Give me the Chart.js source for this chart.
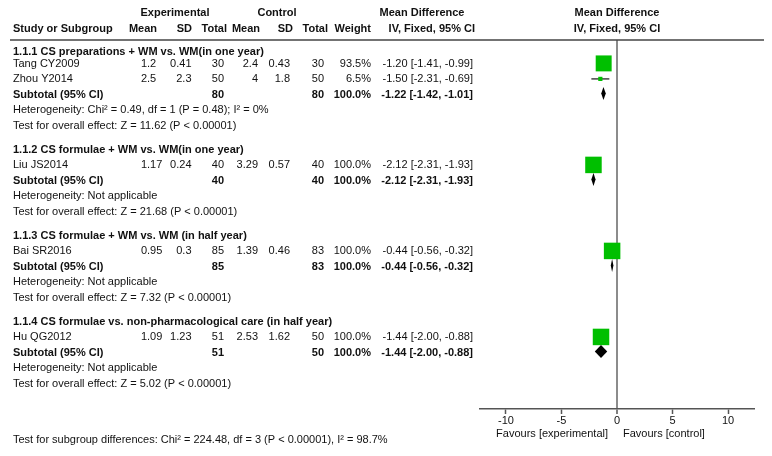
<!DOCTYPE html>
<html>
<head>
<meta charset="utf-8">
<script src="https://cdn.jsdelivr.net/npm/chart.js@4.4.1/dist/chart.umd.min.js"></script>
<style>
  html, body { margin: 0; padding: 0; background: #fff; }
  #wrap { width: 772px; height: 456px; position: relative; }
</style>
</head>
<body>
<div id="wrap"><canvas id="forest"></canvas></div>
<script>
// ---- data ----
var groupTitles = [
  '1.1.1 CS preparations + WM vs. WM(in one year)',
  '1.1.2 CS formulae + WM vs. WM(in one year)',
  '1.1.3 CS formulae + WM vs. WM (in half year)',
  '1.1.4 CS formulae vs. non-pharmacological care (in half year)'
];
var studies    = ['Tang CY2009', 'Zhou Y2014', 'Liu JS2014', 'Bai SR2016', 'Hu QG2012'];
var studyGroup = [0, 0, 1, 2, 3];
var expMean = [1.2, 2.5, 1.17, 0.95, 1.09];
var expSD   = [0.41, 2.3, 0.24, 0.3, 1.23];
var expN    = [30, 50, 40, 85, 51];
var ctlMean = [2.4, 4, 3.29, 1.39, 2.53];
var ctlSD   = [0.43, 1.8, 0.57, 0.46, 1.62];
var ctlN    = [30, 50, 40, 83, 50];
var weight  = [93.5, 6.5, 100, 100, 100];
var md      = [-1.20, -1.50, -2.12, -0.44, -1.44];
var mdLow   = [-1.41, -2.31, -2.31, -0.56, -2.00];
var mdHigh  = [-0.99, -0.69, -1.93, -0.32, -0.88];

var subExpN  = [80, 40, 85, 51];
var subCtlN  = [80, 40, 83, 50];
var subMD    = [-1.22, -2.12, -0.44, -1.44];
var subLow   = [-1.42, -2.31, -0.56, -2.00];
var subHigh  = [-1.01, -1.93, -0.32, -0.88];
var hetChi   = [0.49, null, null, null];
var hetDf    = [1, null, null, null];
var hetP     = [0.48, null, null, null];
var hetI2    = [0, null, null, null];
var overallZ = [11.62, 21.68, 7.32, 5.02];

var subgroupChi = 224.48, subgroupDf = 3, subgroupI2 = 98.7;
var xTicks = [-10, -5, 0, 5, 10];

// ---- row layout (one unit per text line, a wider gap between subgroups) ----
var rows = [];
var pos = 0;
groupTitles.forEach(function(t, g) {
  if (g > 0) pos += 1.55;
  rows.push({kind: 'title', g: g, y: pos});
  pos += g === 0 ? 0.8 : 1; // first title sits a little closer to its rows
  studies.forEach(function(s, i) {
    if (studyGroup[i] === g) { rows.push({kind: 'study', i: i, y: pos}); pos += 1; }
  });
  rows.push({kind: 'subtotal', g: g, y: pos}); pos += 1;
  rows.push({kind: 'het', g: g, y: pos}); pos += 1;
  rows.push({kind: 'overall', g: g, y: pos});
});
var studyRow = [];
var subRow = [];
rows.forEach(function(r) {
  if (r.kind === 'study') studyRow[r.i] = r.y;
  if (r.kind === 'subtotal') subRow[r.g] = r.y;
});

var FONT = '"Liberation Sans", Arial, sans-serif';
var GREEN = '#00bf00';

function f2(v) { return v.toFixed(2); }
function ciText(m, lo, hi) { return f2(m) + ' [' + f2(lo) + ', ' + f2(hi) + ']'; }

// square side grows with weight
function boxRadius(w) {
  var side = 16.5 * Math.sqrt(w / 100);
  return side / (2 * Math.SQRT1_2);
}

var datasets = [{
  label: 'Studies',
  data: md.map(function(v, i) { return {x: v, y: studyRow[i]}; }),
  pointStyle: 'rect',
  pointRadius: weight.map(boxRadius),
  backgroundColor: GREEN,
  borderWidth: 0
}];
studies.forEach(function(s, i) {
  datasets.push({
    label: s + ' CI',
    data: [{x: mdLow[i], y: studyRow[i]}, {x: mdHigh[i], y: studyRow[i]}],
    showLine: true,
    borderColor: '#444',
    borderWidth: 1.5,
    pointRadius: 0
  });
});

// left-hand table, header rule, diamonds and axis captions
var forestText = {
  id: 'forestText',
  afterDatasetsDraw: function(chart) {
    var ctx = chart.ctx;
    var xs = chart.scales.x, ys = chart.scales.y;
    ctx.save();
    ctx.fillStyle = '#000';
    subMD.forEach(function(m, g) {
      var y = ys.getPixelForValue(subRow[g]) - 1;
      ctx.beginPath();
      ctx.moveTo(xs.getPixelForValue(subLow[g]), y);
      ctx.lineTo(xs.getPixelForValue(m), y - 6.5);
      ctx.lineTo(xs.getPixelForValue(subHigh[g]), y);
      ctx.lineTo(xs.getPixelForValue(m), y + 6.5);
      ctx.closePath();
      ctx.fill();
    });
    ctx.restore();
  },
  afterDraw: function(chart) {
    var ctx = chart.ctx;
    var ys = chart.scales.y, xs = chart.scales.x;
    var L = 13;
    ctx.save();
    ctx.fillStyle = '#111';
    ctx.textBaseline = 'middle';

    function txt(s, x, y, align, bold) {
      ctx.font = (bold ? 'bold ' : '') + '11px ' + FONT;
      ctx.textAlign = align || 'left';
      ctx.fillText(s, x, y);
    }
    function dec(v, x, y, bold) {
      // decimal aligned number
      var s = String(v), p = s.indexOf('.');
      var a = p < 0 ? s : s.slice(0, p), b = p < 0 ? '' : s.slice(p);
      txt(a, x, y, 'right', bold);
      txt(b, x, y, 'left', bold);
    }

    // header
    txt('Experimental', 175, 13, 'center', true);
    txt('Control', 277, 13, 'center', true);
    txt('Mean Difference', 422, 13, 'center', true);
    txt('Mean Difference', xs.getPixelForValue(0), 13, 'center', true);
    txt('Study or Subgroup', L, 29, 'left', true);
    txt('Mean', 157, 29, 'right', true);
    txt('SD', 192, 29, 'right', true);
    txt('Total', 227, 29, 'right', true);
    txt('Mean', 260, 29, 'right', true);
    txt('SD', 293, 29, 'right', true);
    txt('Total', 328, 29, 'right', true);
    txt('Weight', 371, 29, 'right', true);
    txt('IV, Fixed, 95% CI', 475, 29, 'right', true);
    txt('IV, Fixed, 95% CI', xs.getPixelForValue(0), 29, 'center', true);

    ctx.strokeStyle = '#444';
    ctx.lineWidth = 1.5;
    ctx.beginPath();
    ctx.moveTo(L - 3, chart.chartArea.top);
    ctx.lineTo(764, chart.chartArea.top);
    ctx.stroke();

    rows.forEach(function(r) {
      var y = ys.getPixelForValue(r.y) + 0.5;
      if (r.kind === 'title') {
        txt(groupTitles[r.g], L, y, 'left', true);
      } else if (r.kind === 'study') {
        var i = r.i;
        txt(studies[i], L, y);
        dec(expMean[i], 147, y);
        txt(String(expSD[i]), 191.5, y, 'right');
        txt(String(expN[i]), 224, y, 'right');
        txt(String(ctlMean[i]), 258, y, 'right');
        txt(String(ctlSD[i]), 290, y, 'right');
        txt(String(ctlN[i]), 324, y, 'right');
        txt(weight[i].toFixed(1) + '%', 371, y, 'right');
        txt(ciText(md[i], mdLow[i], mdHigh[i]), 473, y, 'right');
      } else if (r.kind === 'subtotal') {
        var g = r.g;
        txt('Subtotal (95% CI)', L, y, 'left', true);
        txt(String(subExpN[g]), 224, y, 'right', true);
        txt(String(subCtlN[g]), 324, y, 'right', true);
        txt('100.0%', 371, y, 'right', true);
        txt(ciText(subMD[g], subLow[g], subHigh[g]), 473, y, 'right', true);
      } else if (r.kind === 'het') {
        var h = hetChi[r.g] === null ? 'Heterogeneity: Not applicable'
          : 'Heterogeneity: Chi\u00b2 = ' + hetChi[r.g].toFixed(2) + ', df = ' + hetDf[r.g] +
            ' (P = ' + hetP[r.g].toFixed(2) + '); I\u00b2 = ' + hetI2[r.g] + '%';
        txt(h, L, y);
      } else {
        txt('Test for overall effect: Z = ' + overallZ[r.g].toFixed(2) + ' (P < 0.00001)', L, y);
      }
    });

    var bottom = chart.chartArea.bottom;
    txt('Favours [experimental]', xs.getPixelForValue(0) - 9, bottom + 25, 'right');
    txt('Favours [control]', xs.getPixelForValue(0) + 6, bottom + 25, 'left');
    txt('Test for subgroup differences: Chi\u00b2 = ' + subgroupChi.toFixed(2) + ', df = ' + subgroupDf +
        ' (P < 0.00001), I\u00b2 = ' + subgroupI2 + '%', L, 440);
    ctx.restore();
  }
};

var ctx = document.getElementById('forest').getContext('2d');
var forestChart = new Chart(ctx, {
  type: 'scatter',
  data: {datasets: datasets},
  options: {
    responsive: true,
    maintainAspectRatio: false,
    animation: false,
    devicePixelRatio: 1,
    layout: {padding: {left: 480, right: 18, top: 40, bottom: 0}},
    plugins: {legend: {display: false}, tooltip: {enabled: false}},
    scales: {
      x: {
        type: 'linear',
        min: -12.34,
        max: 12.34,
        afterBuildTicks: function(s) { s.ticks = xTicks.map(function(v) { return {value: v}; }); },
        afterFit: function(s) { s.height = 47; },
        border: {display: true, color: '#555', width: 1.5},
        grid: {
          drawOnChartArea: true,
          color: function(c) { return c.tick && c.tick.value === 0 ? '#8c8c8c' : 'rgba(0,0,0,0)'; },
          lineWidth: function(c) { return c.tick && c.tick.value === 0 ? 2 : 1; },
          tickColor: '#555',
          tickWidth: 1.5,
          tickLength: 5
        },
        ticks: {
          color: '#111',
          padding: 0,
          maxRotation: 0,
          font: {family: FONT, size: 11}
        }
      },
      y: {
        type: 'linear',
        reverse: true,
        min: -0.71,
        max: 23.1,
        display: false
      }
    }
  },
  plugins: [forestText]
});
</script>
</body>
</html>
